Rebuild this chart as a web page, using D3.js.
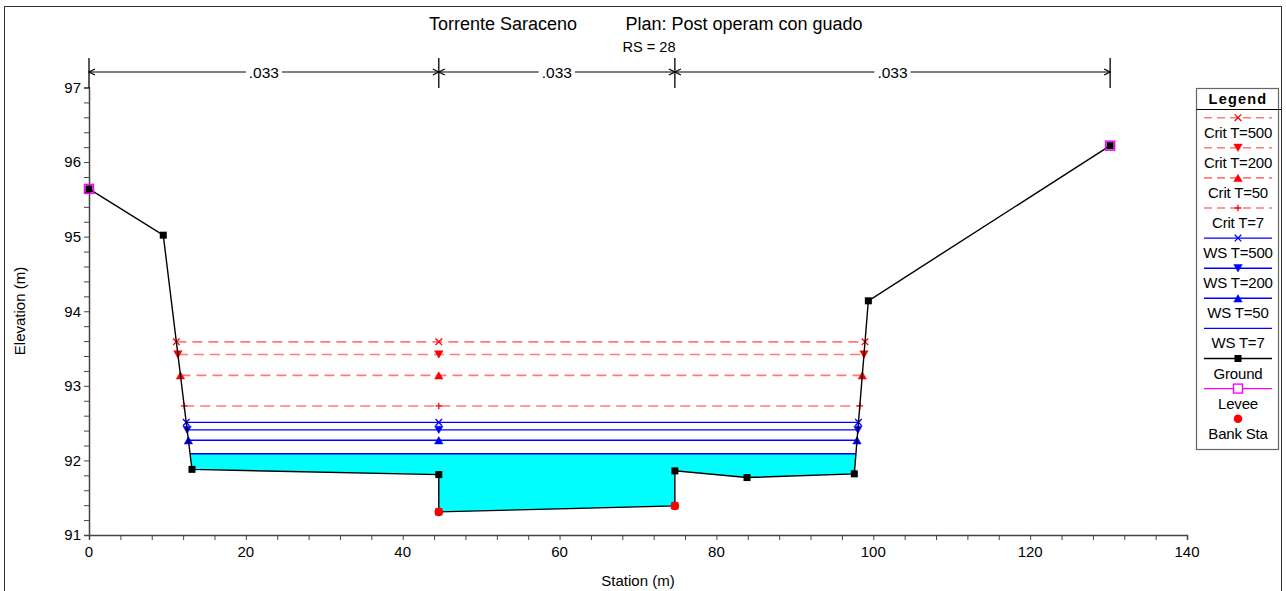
<!DOCTYPE html>
<html>
<meta charset="utf-8">
<script src="https://d3js.org/d3.v7.min.js"></script>
<style>
  body { margin: 0; background: #fff; }
  text { font-family: "Liberation Sans", Arial, sans-serif; fill: #000; }
</style>
<body>
<div id="my_dataviz"></div>
<script>
    // chart values
    const groundStation = [0, 9.47, 13.13, 44.6, 44.6, 74.7, 74.7, 83.9, 97.58, 99.37, 130.2];
    const groundElev    = [95.64, 95.02, 91.88, 91.81, 91.31, 91.39, 91.86, 91.77, 91.82, 94.14, 96.22];

    const leveeStation = [0, 130.2];
    const leveeElev    = [95.64, 96.22];

    const bankStation = [44.6, 74.7];
    const bankElev    = [91.31, 91.39];

    const profileNames = ["Crit T=500", "Crit T=200", "Crit T=50", "Crit T=7",
                          "WS T=500", "WS T=200", "WS T=50", "WS T=7"];
    const profileElev  = [93.59, 93.42, 93.14, 92.73, 92.51, 92.41, 92.27, 92.09];
    const profileMarks = ["x", "down", "up", "plus", "x", "down", "up", "none"];

    const manningBreaks = [0, 44.6, 74.7, 130.2];
    const manningValues = [".033", ".033", ".033"];

    const xTicks = [0, 20, 40, 60, 80, 100, 120, 140];
    const yTicks = [91, 92, 93, 94, 95, 96, 97];

    // set the dimensions and margins of the graph
    const W = 1286, H = 591;
    const margin = {top: 87.5, right: 99, bottom: 56, left: 89},
        width = W - margin.left - margin.right,
        height = H - margin.top - margin.bottom;

    const svg0 = d3.select("#my_dataviz")
        .append("svg")
        .attr("width", W)
        .attr("height", H);

    // outer frame
    svg0.append("rect")
        .attr("x", 4.5).attr("y", 6.5)
        .attr("width", 1277).attr("height", 600)
        .attr("fill", "none").attr("stroke", "#333").attr("stroke-width", 1);

    // titles
    svg0.append("text").attr("x", 503).attr("y", 30).attr("text-anchor", "middle")
        .style("font-size", "18px").text("Torrente Saraceno");
    svg0.append("text").attr("x", 744).attr("y", 30).attr("text-anchor", "middle")
        .style("font-size", "18px").text("Plan: Post operam con guado");
    svg0.append("text").attr("x", 649).attr("y", 51.5).attr("text-anchor", "middle")
        .style("font-size", "14.6px").text("RS = 28");

    const svg = svg0.append("g")
        .attr("transform", "translate(" + margin.left + "," + margin.top + ")");

    const x = d3.scaleLinear().domain([0, 140]).range([0, width]);
    const y = d3.scaleLinear().domain([91, 97]).range([height, 0]);

    // axes
    const xMinor = d3.range(0, 140.01, 4);
    const yMinor = d3.range(91, 97.01, 0.2);

    const xAxis = svg.append("g")
        .attr("transform", "translate(0," + height + ")")
        .call(d3.axisBottom(x).tickValues(xMinor).tickSize(5).tickFormat(""));
    xAxis.selectAll("line").attr("stroke", "#444");
    xAxis.select(".domain").attr("stroke", "#444").attr("stroke-width", 1.5);
    svg.append("g").selectAll("text")
        .data(xTicks).enter().append("text")
        .attr("x", function(d) { return x(d); })
        .attr("y", height + 22)
        .attr("text-anchor", "middle")
        .style("font-size", "15px")
        .text(function(d) { return d; });

    const yAxis = svg.append("g")
        .call(d3.axisLeft(y).tickValues(yMinor).tickSize(5).tickFormat(""));
    yAxis.selectAll("line").attr("stroke", "#444");
    yAxis.select(".domain").attr("stroke", "#444").attr("stroke-width", 1.5);
    svg.append("g").selectAll("text")
        .data(yTicks).enter().append("text")
        .attr("x", -8)
        .attr("y", function(d) { return y(d); })
        .attr("dy", "0.36em")
        .attr("text-anchor", "end")
        .style("font-size", "15px")
        .text(function(d) { return d; });

    svg0.append("text")
        .attr("x", 638).attr("y", 585.5).attr("text-anchor", "middle")
        .style("font-size", "15px").text("Station (m)");
    svg0.append("text")
        .attr("transform", "translate(25,311)rotate(-90)")
        .attr("text-anchor", "middle")
        .style("font-size", "15px").text("Elevation (m)");

    // Manning n brackets
    const by = 72 - margin.top;
    manningBreaks.forEach(function(s) {
        svg.append("line")
            .attr("x1", x(s)).attr("x2", x(s))
            .attr("y1", by - 14).attr("y2", by + 16)
            .attr("stroke", "#000").attr("stroke-width", 1.3);
    });
    manningValues.forEach(function(v, i) {
        const a = x(manningBreaks[i]), b = x(manningBreaks[i + 1]);
        svg.append("line")
            .attr("x1", a).attr("x2", b).attr("y1", by).attr("y2", by)
            .attr("stroke", "#000").attr("stroke-width", 1);
        svg.append("path")
            .attr("d", "M" + (a + 6) + "," + (by - 3) + "L" + a + "," + by + "L" + (a + 6) + "," + (by + 3)
                     + "M" + (b - 6) + "," + (by - 3) + "L" + b + "," + by + "L" + (b - 6) + "," + (by + 3))
            .attr("fill", "none").attr("stroke", "#000").attr("stroke-width", 1.2);
        const g = svg.append("g");
        const t = g.append("text")
            .attr("x", (a + b) / 2).attr("y", by + 5.5)
            .attr("text-anchor", "middle")
            .style("font-size", "15.5px")
            .text(v);
        const bb = t.node().getBBox();
        g.insert("rect", "text")
            .attr("x", bb.x - 3).attr("y", by - 2).attr("width", bb.width + 6).attr("height", 4)
            .attr("fill", "#fff");
    });

    // intersections of a level with the banks
    function leftCross(e) {
        for (let i = 0; i < groundElev.length - 1; i++) {
            if (groundElev[i] >= e && groundElev[i + 1] < e) {
                const t = (groundElev[i] - e) / (groundElev[i] - groundElev[i + 1]);
                return {i: i, s: groundStation[i] + t * (groundStation[i + 1] - groundStation[i])};
            }
        }
    }
    function rightCross(e) {
        for (let j = groundElev.length - 1; j > 0; j--) {
            if (groundElev[j] >= e && groundElev[j - 1] < e) {
                const t = (groundElev[j] - e) / (groundElev[j] - groundElev[j - 1]);
                return {i: j, s: groundStation[j] + t * (groundStation[j - 1] - groundStation[j])};
            }
        }
    }

    // water fill for the lowest profile
    const wsLow = profileElev[profileElev.length - 1];
    const L = leftCross(wsLow), R = rightCross(wsLow);
    const fillPts = [[L.s, wsLow]];
    for (let k = L.i + 1; k < R.i; k++) fillPts.push([groundStation[k], groundElev[k]]);
    fillPts.push([R.s, wsLow]);
    svg.append("path")
        .attr("d", d3.line().x(function(d) { return x(d[0]); }).y(function(d) { return y(d[1]); })(fillPts) + "Z")
        .attr("fill", "#00ffff");

    // marker shapes
    function markPath(type, cx, cy, r) {
        if (type === "x") return "M" + (cx - r) + "," + (cy - r) + "L" + (cx + r) + "," + (cy + r) +
                                 "M" + (cx - r) + "," + (cy + r) + "L" + (cx + r) + "," + (cy - r);
        if (type === "plus") return "M" + (cx - r) + "," + cy + "L" + (cx + r) + "," + cy +
                                    "M" + cx + "," + (cy - r) + "L" + cx + "," + (cy + r);
        if (type === "up") return "M" + (cx - r - 0.5) + "," + (cy + r) + "L" + (cx + r + 0.5) + "," + (cy + r) + "L" + cx + "," + (cy - r) + "Z";
        if (type === "down") return "M" + (cx - r - 0.5) + "," + (cy - r) + "L" + (cx + r + 0.5) + "," + (cy - r) + "L" + cx + "," + (cy + r) + "Z";
        return "";
    }
    function drawMark(g, type, cx, cy, col) {
        if (type === "none") return;
        const filled = (type === "up" || type === "down");
        g.append("path")
            .attr("d", markPath(type, cx, cy, filled ? 3.7 : 3.3))
            .attr("fill", filled ? col : "none")
            .attr("stroke", col)
            .attr("stroke-width", filled ? 0.5 : 1.3);
    }

    // water surface / critical lines
    profileNames.forEach(function(name, i) {
        const e = profileElev[i];
        const crit = name.indexOf("Crit") === 0;
        const a = leftCross(e), b = rightCross(e);
        svg.append("line")
            .attr("x1", x(a.s)).attr("x2", x(b.s))
            .attr("y1", y(e)).attr("y2", y(e))
            .attr("stroke", crit ? "#ff7a7a" : "#0000ff")
            .attr("stroke-width", crit ? 1.6 : 1.4)
            .attr("stroke-dasharray", crit ? "10,6" : null);
        [a.s, bankStation[0], b.s].forEach(function(s) {
            drawMark(svg, profileMarks[i], x(s), y(e), crit ? "#ff0000" : "#0000ff");
        });
    });

    // ground line
    const groundPts = groundStation.map(function(s, i) { return [s, groundElev[i]]; });
    svg.append("path")
        .attr("d", d3.line().x(function(d) { return x(d[0]); }).y(function(d) { return y(d[1]); })(groundPts))
        .attr("fill", "none").attr("stroke", "#000").attr("stroke-width", 1.4);

    // levees
    svg.selectAll(".levee")
        .data(leveeStation).enter().append("rect")
        .attr("class", "levee")
        .attr("x", function(d) { return x(d) - 4.5; })
        .attr("y", function(d, i) { return y(leveeElev[i]) - 4.5; })
        .attr("width", 9).attr("height", 9)
        .attr("fill", "none").attr("stroke", "#ff00ff").attr("stroke-width", 1.5);

    svg.selectAll(".gpt")
        .data(groundPts).enter().append("rect")
        .attr("class", "gpt")
        .attr("x", function(d) { return x(d[0]) - 3.5; })
        .attr("y", function(d) { return y(d[1]) - 3.5; })
        .attr("width", 7).attr("height", 7)
        .attr("fill", "#000");

    svg.selectAll(".bank")
        .data(bankStation).enter().append("circle")
        .attr("class", "bank")
        .attr("cx", function(d) { return x(d); })
        .attr("cy", function(d, i) { return y(bankElev[i]); })
        .attr("r", 4.3)
        .attr("fill", "#ff0000");

    // legend
    const lg = svg0.append("g");
    lg.append("rect")
        .attr("x", 1196.5).attr("y", 88.5).attr("width", 82).attr("height", 361)
        .attr("fill", "#fff").attr("stroke", "#666").attr("stroke-width", 1.2);
    lg.append("line")
        .attr("x1", 1196.5).attr("x2", 1281).attr("y1", 109.5).attr("y2", 109.5)
        .attr("stroke", "#000").attr("stroke-width", 1);
    lg.append("text")
        .attr("x", 1238).attr("y", 104).attr("text-anchor", "middle")
        .style("font-size", "14.5px").style("font-weight", "bold").style("letter-spacing", "1.2px")
        .text("Legend");

    const legendItems = profileNames.concat(["Ground", "Levee", "Bank Sta"]);
    const lx1 = 1204, lx2 = 1272, lcx = 1238;
    legendItems.forEach(function(name, i) {
        const ly = 117.7 + 30.1 * i;
        if (i < profileNames.length) {
            const crit = name.indexOf("Crit") === 0;
            lg.append("line")
                .attr("x1", lx1).attr("x2", lx2).attr("y1", ly).attr("y2", ly)
                .attr("stroke", crit ? "#ff7a7a" : "#0000ff")
                .attr("stroke-width", crit ? 1.6 : 1.4)
                .attr("stroke-dasharray", crit ? "8,5" : null);
            drawMark(lg, profileMarks[i], lcx, ly, crit ? "#ff0000" : "#0000ff");
        } else if (name === "Ground") {
            lg.append("line").attr("x1", lx1).attr("x2", lx2).attr("y1", ly).attr("y2", ly)
                .attr("stroke", "#000").attr("stroke-width", 1.4);
            lg.append("rect").attr("x", lcx - 3.5).attr("y", ly - 3.5).attr("width", 7).attr("height", 7).attr("fill", "#000");
        } else if (name === "Levee") {
            lg.append("line").attr("x1", lx1).attr("x2", lx2).attr("y1", ly).attr("y2", ly)
                .attr("stroke", "#ff00ff").attr("stroke-width", 1.4);
            lg.append("rect").attr("x", lcx - 4.5).attr("y", ly - 4.5).attr("width", 9).attr("height", 9)
                .attr("fill", "#fff").attr("stroke", "#ff00ff").attr("stroke-width", 1.4);
        } else {
            lg.append("circle").attr("cx", lcx).attr("cy", ly).attr("r", 4.3).attr("fill", "#ff0000");
        }
        lg.append("text")
            .attr("x", lcx).attr("y", ly + 20)
            .attr("text-anchor", "middle")
            .style("font-size", "15px")
            .style("letter-spacing", "-0.2px")
            .text(name);
    });
</script>
</body>
</html>
